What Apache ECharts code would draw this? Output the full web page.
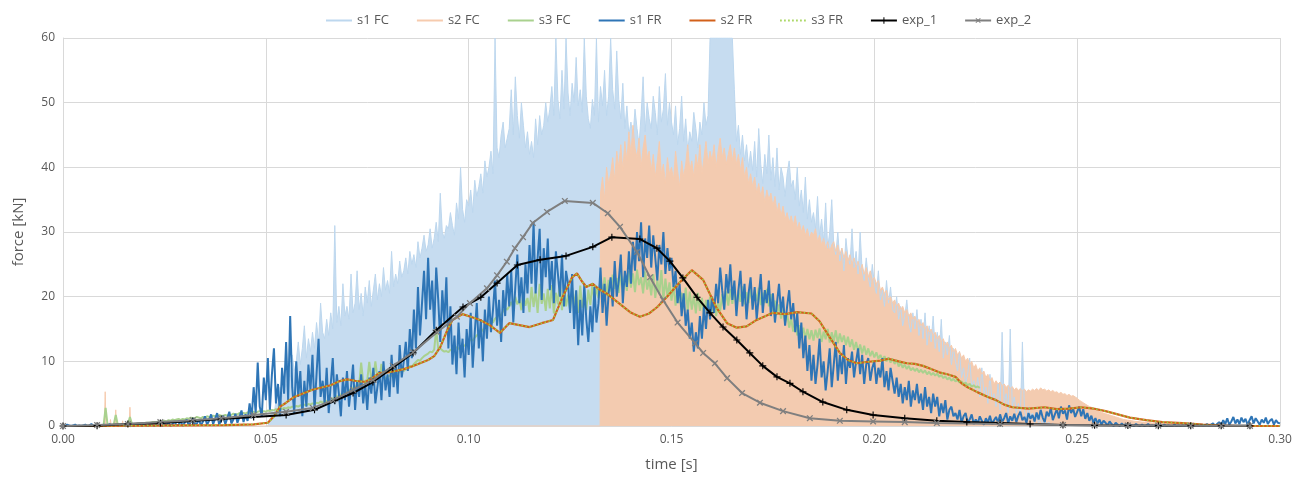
<!DOCTYPE html>
<html><head><meta charset="utf-8">
<script src="https://cdn.jsdelivr.net/npm/echarts@6/dist/echarts.min.js"></script>
<style>html,body{margin:0;padding:0;background:#fff}#c{width:1304px;height:478px}</style>
</head><body><div id="c"></div>
<script>
// ---- data ----
const xTicks = [0, 0.05, 0.10, 0.15, 0.20, 0.25, 0.30];
const yTicks = [0, 10, 20, 30, 40, 50, 60];
const seriesNames = ['s1 FC','s2 FC','s3 FC','s1 FR','s2 FR','s3 FR','exp_1','exp_2'];

// uniformly sampled signals: start time, sample interval, values
const s1FR_t0 = 0, s1FR_dt = 0.0005;
const s1FR = [
0.1,0.0,0.2,0.1,0.0,0.1,0.2,0.0,0.1,0.0,
0.1,0.2,0.0,0.1,0.3,0.0,0.1,0.2,0.0,0.1,
0.2,0.0,0.1,0.3,0.1,0.0,0.2,0.1,0.0,0.3,
0.1,0.0,0.2,0.4,0.1,0.0,0.3,0.1,0.2,0.0,
0.3,0.1,0.0,0.4,0.2,0.0,0.3,0.5,0.1,0.0,
0.4,0.1,0.6,0.0,0.3,0.7,0.1,0.2,0.8,0.0,
0.5,1.0,0.1,0.6,1.2,0.2,0.4,1.0,0.1,0.7,
1.5,0.2,0.8,1.8,0.3,1.1,2.0,0.2,0.9,1.6,
0.3,1.2,2.2,0.4,1.0,1.9,0.5,1.4,2.4,0.6,
1.8,0.8,3.5,1.2,6.0,2.0,9.8,3.0,1.5,7.5,
4.0,10.5,2.5,8.0,12.0,3.5,6.5,1.5,9.0,5.0,
13.0,4.0,17.0,6.0,2.0,10.0,4.5,8.5,1.5,7.0,
3.0,9.5,5.5,11.0,2.5,8.0,13.5,4.5,7.0,3.5,
9.0,2.0,6.5,10.5,3.5,8.0,5.0,1.5,7.5,4.0,
8.5,3.0,6.0,9.5,2.5,7.0,4.5,8.0,3.5,6.5,
2.5,7.5,5.0,9.0,3.5,6.0,8.5,4.0,10.0,5.5,
8.0,4.5,11.0,6.0,9.5,5.0,12.5,7.5,10.0,13.0,
8.5,15.0,10.5,18.0,12.0,21.5,14.0,19.0,24.0,16.5,
26.0,18.0,22.5,15.0,24.5,19.5,13.0,21.0,16.0,23.0,
12.0,18.5,9.5,14.0,8.0,16.0,10.5,13.5,7.5,15.0,
11.0,17.5,9.0,14.5,19.0,12.0,16.5,10.0,18.0,13.5,
20.0,14.5,18.0,22.5,15.5,19.5,13.0,21.0,17.0,23.5,
18.5,24.0,16.0,21.5,26.5,19.0,23.0,17.5,25.0,20.5,
28.0,22.0,31.5,20.5,26.0,30.5,19.5,27.5,23.0,29.0,
21.0,25.5,19.0,27.0,23.5,20.0,26.5,18.5,24.0,22.0,
17.5,23.5,15.0,21.0,12.5,19.5,14.0,22.0,16.5,13.0,
18.5,14.5,21.5,16.0,19.0,24.5,17.5,22.0,15.5,20.5,
23.0,18.5,25.5,20.0,22.5,26.5,19.0,24.0,21.5,27.0,
22.0,28.5,24.0,30.0,25.5,31.5,23.0,29.0,26.0,31.0,
24.5,29.5,26.0,22.5,28.0,25.0,30.0,23.5,27.5,24.0,
26.0,21.5,24.0,19.0,22.0,17.0,20.5,15.5,18.0,13.5,
16.0,11.5,14.5,12.0,17.0,13.5,18.5,15.0,19.5,16.5,
20.0,17.5,22.0,19.0,24.5,21.0,18.0,23.5,20.5,25.0,
19.5,22.5,17.0,21.0,24.0,18.5,22.0,16.5,20.5,23.0,
18.0,21.5,16.5,20.0,23.5,17.5,21.0,19.0,22.5,17.0,
20.5,16.0,19.0,22.0,17.5,20.0,15.5,18.5,21.0,16.5,
19.0,14.5,17.5,12.0,16.0,10.5,14.0,8.5,12.5,7.0,
11.0,6.5,9.5,13.5,7.5,10.0,5.5,8.5,12.0,6.0,
9.5,13.0,7.0,11.0,8.0,12.5,6.5,10.5,9.0,11.5,
7.5,10.0,12.0,8.0,11.0,6.5,9.5,10.5,7.0,9.0,
10.0,6.5,9.0,7.5,10.5,6.0,8.5,5.5,9.0,7.0,
5.0,7.5,4.5,6.5,3.5,6.0,4.0,7.0,3.0,5.5,
4.0,6.5,3.5,5.0,2.5,6.0,3.0,4.5,2.0,5.0,
3.0,4.5,1.5,3.5,2.0,4.0,1.0,2.5,3.0,1.5,
2.0,1.0,2.5,0.5,1.5,2.0,0.5,1.0,1.8,0.3,
1.0,0.4,1.5,0.8,0.2,1.2,0.5,1.6,0.3,0.9,
1.4,0.5,1.8,0.6,1.2,2.0,0.4,1.5,0.8,1.9,
0.6,1.6,2.2,0.9,1.4,0.5,2.0,1.1,1.7,0.7,
2.1,1.0,2.5,1.3,0.6,2.2,1.5,2.8,0.9,1.8,
2.6,1.2,3.0,1.9,2.4,1.0,3.2,2.0,2.7,1.4,
2.2,3.0,1.5,2.6,1.1,2.0,0.8,1.6,0.5,1.2,
0.4,1.0,0.2,0.8,0.5,0.1,0.7,0.3,0.0,0.5,
0.2,0.0,0.4,0.1,0.3,0.0,0.2,0.1,0.0,0.3,
0.1,0.0,0.2,0.0,0.1,0.3,0.0,0.1,0.0,0.2,
0.0,0.1,0.0,0.2,0.0,0.1,0.0,0.0,0.2,0.0,
0.1,0.0,0.1,0.0,0.2,0.0,0.1,0.0,0.0,0.1,
0.0,0.2,0.0,0.1,0.3,0.0,0.2,0.4,0.0,0.3,
0.6,0.1,0.9,0.3,1.2,0.2,0.7,1.4,0.4,1.0,
0.3,1.3,0.6,1.1,0.2,0.9,1.5,0.4,1.2,0.7,
0.2,1.0,0.5,1.3,0.3,0.8,1.1,0.2,0.9,0.5,
0.4];

const s1FC_t0 = 0.05, s1FC_dt = 0.0005;
const s1FC = [
0,0,1.0,2.5,1.5,4.0,3.0,6.0,4.5,7.5,
5.5,9.0,7.0,11.0,8.5,10.0,13.0,9.5,12.0,15.5,
10.5,13.5,11.5,14.5,12.0,16.0,13.0,19.0,14.5,13.5,
16.5,14.0,17.5,15.0,31.0,16.0,18.5,15.5,22.0,17.0,
18.5,16.5,23.5,17.5,19.0,24.0,18.0,20.5,17.0,21.5,
19.0,22.5,18.5,21.0,23.5,19.5,22.0,20.0,24.5,21.0,
22.5,20.5,27.0,21.5,23.5,22.0,25.5,23.0,24.0,26.0,
23.5,27.0,25.0,26.5,24.5,28.5,26.0,27.5,29.5,27.0,
28.0,30.5,27.5,29.0,31.5,28.5,36.0,30.0,29.0,31.0,
30.5,33.0,31.0,29.5,34.5,32.0,40.0,33.5,31.5,35.0,
34.0,36.5,33.0,38.0,35.5,37.0,39.0,36.0,41.0,38.5,
40.0,42.5,39.0,60.0,43.0,41.5,45.0,47.0,43.0,44.5,
46.0,52.0,45.0,54.0,48.0,44.5,50.0,46.5,43.0,45.5,
42.0,44.0,41.5,47.5,43.5,48.0,45.0,46.5,50.0,47.0,
49.0,52.5,48.0,60.0,50.5,47.5,55.0,49.0,60.0,51.5,
48.0,53.0,50.0,57.0,49.5,52.0,48.5,60.0,51.0,47.5,
46.0,50.5,48.0,60.0,47.0,52.5,49.5,55.0,48.0,51.0,
60.0,52.0,49.0,58.0,50.5,47.5,53.0,46.0,49.5,45.0,
47.0,44.5,49.0,46.0,43.5,48.0,54.0,45.5,50.0,47.5,
46.0,51.0,48.5,45.0,52.5,47.0,49.0,54.5,46.5,50.0,
47.0,45.0,49.5,43.5,46.0,51.0,44.0,47.5,42.5,45.5,
44.0,48.5,46.0,43.0,47.0,45.0,50.0,46.5,48.0,60.0,
60.0,60.0,60.0,60.0,60.0,60.0,60.0,60.0,60.0,60.0,
60.0,52.0,44.0,46.5,42.0,45.0,41.0,43.5,40.0,42.5,
39.5,44.0,38.5,46.0,40.5,37.5,42.0,39.0,45.0,38.0,
41.5,37.0,43.0,36.5,40.0,38.5,35.5,39.0,41.0,37.0,
38.0,35.0,40.0,34.0,36.5,33.0,38.5,32.0,35.0,31.5,
33.0,30.5,35.5,29.5,32.0,28.5,34.5,27.5,30.0,35.0,
28.0,26.5,30.0,25.5,27.5,24.0,29.0,26.0,25.0,30.5,
24.5,27.0,23.5,30.0,24.0,22.5,26.0,23.0,21.5,25.0,
22.0,20.5,24.0,19.5,21.0,18.5,22.5,19.0,21.5,18.0,
17.5,20.0,16.5,18.5,15.5,17.0,19.5,16.0,14.5,17.5,
15.0,18.0,14.0,16.5,13.5,17.5,12.5,15.5,13.0,17.0,
12.0,14.5,11.5,16.5,10.5,13.0,11.0,14.0,9.5,12.0,
10.0,8.5,11.5,7.5,9.0,6.5,8.0,10.5,6.0,7.0,
5.5,7.5,4.5,9.0,5.0,6.0,3.5,8.0,4.0,5.0,
3.0,6.5,2.5,14.5,3.5,5.0,2.0,15.0,3.0,4.5,
2.0,3.5,1.5,13.0,2.5,1.0,3.0,1.5,2.0,0.5,
1.5,0.5,1.0,0.3,0.8,0.2,0.6,0.1,0.4,0.0];

const s2FC_spikeT = [0.0104, 0.0117, 0.0130, 0.0147, 0.0165];
const s2FC_spikeV = [5.3, 1.0, 2.5, 0.8, 2.9];
const s2FC_t0 = 0.1325, s2FC_dt = 0.0005;
const s2FC = [
36.0,38.5,35.0,40.0,37.5,
39.0,41.5,38.0,42.5,40.0,43.5,39.5,44.0,41.0,45.5,
42.0,46.5,43.0,41.5,44.5,40.0,43.0,45.0,41.5,42.5,
39.5,42.0,38.5,41.0,44.0,39.0,40.5,37.5,41.5,39.0,
40.0,38.0,42.5,39.5,37.0,41.0,38.5,40.5,43.5,39.5,
41.0,38.5,42.0,40.0,43.5,39.0,41.5,44.0,40.5,42.5,
41.0,43.5,40.0,42.5,44.5,41.5,43.0,40.5,42.0,43.5,
41.0,43.0,40.5,42.0,39.5,41.5,38.5,40.0,37.5,39.0,
37.0,38.5,36.0,37.5,35.5,37.0,34.5,36.5,35.0,36.0,
34.0,35.5,33.0,34.5,32.5,34.0,32.0,33.0,31.5,32.5,
31.0,32.5,30.5,31.5,30.0,31.0,29.5,30.5,29.0,30.0,
29.5,30.5,28.5,29.5,28.0,29.0,27.5,28.5,27.0,28.0,
28.5,27.0,28.0,26.5,27.5,26.0,27.0,25.5,26.5,25.0,
26.0,24.5,25.5,24.0,25.0,23.5,24.5,23.0,24.0,22.5,
23.0,22.0,22.5,21.0,21.5,20.5,21.0,19.5,20.0,19.0,
19.5,18.5,19.0,18.0,18.5,17.5,18.0,17.0,17.5,16.5,
17.0,16.0,16.5,15.5,16.0,15.0,15.5,14.5,15.0,14.0,
14.5,13.5,14.0,13.0,13.5,12.5,13.0,12.0,12.5,11.5,
12.0,11.0,11.5,10.5,11.0,10.0,10.5,9.5,10.0,9.0,
9.5,8.5,9.0,8.0,8.5,7.5,8.0,7.0,7.5,6.5,
7.0,6.5,6.8,6.2,6.5,6.0,6.3,5.8,6.1,5.6,
5.9,5.5,5.8,5.4,5.7,5.3,5.6,5.4,5.7,5.5,
5.8,5.5,5.9,5.6,5.7,5.4,5.6,5.3,5.5,5.2,
5.3,5.0,5.2,4.9,5.0,4.7,4.9,4.6,4.7,4.5,
4.3,4.0,3.8,3.6,3.4,3.2,3.0,2.9,2.7,2.6,
2.4,2.3,2.1,2.0,1.9,1.8,1.7,1.6,1.5,1.4,
1.3,1.2,1.1,1.0,0.95,0.9,0.85,0.8,0.75,0.7,
0.7,0.65,0.6,0.6,0.55,0.5,0.5,0.45,0.45,0.4,
0.4,0.35,0.35,0.3,0.3,0.3,0.25,0.25,0.2,0.2,
0.2,0.2,0.15,0.15,0.1,0.1,0.1,0.1,0.05,0.05,
0.05,0,0];

const s3FC_t0 = 0, s3FC_dt = 0.0005;
const s3FC = [
0,0,0,0,0,0,0,0,0,0,
0,0,0,0,0,0,0.1,0.1,0.1,0.1,
0.1,2.8,0.1,0.2,0.2,0.2,1.7,0.2,0.2,0.2,
0.2,0.3,0.3,1.4,0.3,0.3,0.3,0.4,0.4,0.4,
0.4,0.5,0.5,0.5,0.6,0.6,0.6,0.7,0.7,0.7,
0.8,0.7,0.9,0.8,1.0,0.9,1.0,1.1,0.9,1.1,
1.0,1.2,1.1,1.3,1.2,1.2,1.4,1.3,1.2,1.4,
1.3,1.5,1.4,1.4,1.6,1.5,1.5,1.7,1.6,1.6,
1.7,1.6,1.8,1.7,1.9,1.8,1.8,2.0,1.9,2.0,
1.9,2.1,2.0,2.1,2.2,2.0,2.2,2.3,2.1,2.3,
2.2,2.4,2.3,2.5,2.4,2.6,2.5,2.7,2.6,2.8,
2.7,2.9,2.8,3.0,2.9,3.1,3.0,3.2,3.1,3.3,
3.2,3.4,3.3,3.5,3.4,3.6,3.5,3.8,3.6,3.9,
3.8,4.1,4.0,4.3,4.2,4.6,4.5,4.9,4.8,5.2,
5.2,5.6,5.5,6.0,5.9,6.4,6.3,9.8,6.8,7.0,
7.1,9.9,7.2,7.3,10.0,7.4,7.3,9.6,7.5,7.4,
7.6,7.8,7.7,8.0,8.2,8.1,8.4,8.6,8.5,8.8,
9.0,9.3,9.2,9.6,9.9,10.2,10.1,10.5,10.8,11.0,
11.2,11.5,11.4,11.8,15.0,11.9,12.0,11.7,11.5,11.6,
11.4,11.8,11.6,12.0,12.2,11.9,12.3,12.5,12.4,12.8,
13.0,13.4,13.2,13.7,14.0,14.3,14.5,14.9,15.2,15.5,
15.8,16.2,16.0,16.6,16.9,17.3,17.1,17.8,18.2,18.0,
18.5,19.2,18.3,20.0,18.8,19.6,17.9,20.4,18.6,19.8,
17.6,21.5,18.4,20.8,17.5,22.0,18.9,20.5,17.8,21.2,
18.2,21.8,17.4,20.6,18.8,22.2,17.9,21.0,18.5,20.3,
17.8,21.4,18.6,20.9,17.5,21.7,18.3,20.2,17.9,21.1,
18.7,22.0,19.2,21.5,19.8,22.8,20.4,23.0,20.1,22.6,
20.8,23.4,21.2,22.9,20.6,23.8,21.5,23.2,20.9,24.0,
21.4,23.6,20.7,24.2,21.8,23.0,20.5,23.9,21.1,22.7,
20.2,23.5,19.8,22.6,20.4,24.1,19.5,22.8,20.0,22.2,
19.4,21.8,18.6,21.2,19.0,20.6,18.2,21.4,17.8,20.8,
18.0,20.2,17.4,20.6,17.8,19.8,17.2,19.5,17.6,20.0,
17.5,19.6,17.0,19.2,17.8,20.4,18.2,20.8,18.6,21.2,
18.9,21.5,18.4,21.0,19.2,21.6,18.8,20.7,19.0,21.3,
18.6,21.0,19.3,21.4,18.7,20.6,19.0,21.2,18.5,20.4,
17.8,19.4,17.2,18.8,16.6,18.0,16.0,17.4,15.2,16.6,
14.6,16.0,14.0,15.6,13.8,15.2,13.5,15.0,13.4,14.8,
13.2,14.9,13.6,15.1,13.0,14.6,13.4,15.0,12.9,14.5,
13.1,14.8,12.8,14.3,13.0,14.0,12.5,13.8,12.2,13.4,
11.8,13.0,11.5,12.6,11.2,12.4,11.0,12.0,10.8,11.6,
10.6,11.4,10.4,11.0,10.2,10.8,10.0,10.6,9.8,10.4,
9.6,10.2,9.2,9.8,9.0,9.5,8.8,9.3,8.6,9.0,
8.5,8.9,8.3,8.7,8.2,8.6,8.0,8.4,7.9,8.2,
7.8,8.1,7.6,7.9,7.4,7.7,7.2,7.5,7.0,7.3,
6.9,7.1,6.7,6.9,6.5,6.7,6.3,6.5,6.1,6.3,
6.0,6.1,5.9];

// irregularly sampled series: times and values
const frT = [
0,0.01,0.02,0.03,0.04,0.047,0.0505,0.052,0.0535,0.055,
0.057,0.059,0.0615,0.064,0.066,0.068,0.070,0.072,0.0745,0.076,
0.078,0.080,0.082,0.084,0.086,0.088,0.090,0.0915,0.093,0.0947,
0.096,0.0985,0.1005,0.1028,0.1052,0.1077,0.110,0.1125,0.115,0.118,
0.1208,0.1232,0.1255,0.1267,0.128,0.129,0.1306,0.132,0.134,0.137,
0.1398,0.1422,0.1445,0.1465,0.1489,0.152,0.155,0.1578,0.161,0.1637,
0.1661,0.1685,0.171,0.175,0.178,0.181,0.1845,0.1865,0.1883,0.1915,
0.1935,0.1957,0.198,0.2015,0.2035,0.206,0.208,0.210,0.212,0.214,
0.216,0.218,0.220,0.2215,0.223,0.2255,0.228,0.230,0.232,0.234,
0.238,0.242,0.245,0.248,0.251,0.254,0.257,0.260,0.263,0.267,
0.271,0.276,0.281,0.286,0.29,0.30];
const s2FR = [
0,0.02,0.05,0.1,0.15,0.25,0.5,1.5,3.0,3.6,
4.5,5.0,5.6,6.0,6.3,6.9,7.2,7.0,6.8,7.3,
8.2,8.3,8.5,8.8,9.2,9.7,10.2,10.8,12.2,14.8,
16.4,17.3,16.9,16.4,15.6,14.4,15.9,15.6,15.3,15.9,
16.4,20.0,23.0,23.6,22.3,21.5,22.0,21.2,20.5,19.0,
17.6,16.9,17.4,18.4,20.0,22.2,24.1,22.6,18.4,15.9,
15.2,15.4,16.4,17.5,17.3,17.6,17.4,16.2,14.4,11.3,
10.2,9.7,9.9,10.1,10.4,10.0,9.7,9.6,9.3,8.8,
8.3,8.0,7.6,6.6,6.0,5.2,4.5,4.0,3.3,2.9,
2.7,2.9,2.6,2.7,2.9,2.7,2.3,1.8,1.3,0.9,
0.6,0.45,0.2,0.05,0,0];
const s3FR = [
0,0.02,0.05,0.1,0.15,0.25,0.5,1.4,3.0,3.6,
4.5,5.0,5.6,6.0,6.3,6.9,7.2,7.0,6.8,7.3,
8.2,8.3,8.5,8.8,9.2,9.7,10.2,10.8,12.2,14.8,
16.4,17.3,16.9,16.4,15.6,14.4,15.9,15.6,15.3,15.9,
16.4,20.0,23.0,23.6,22.3,21.5,22.0,21.2,20.5,19.0,
17.6,16.9,17.4,18.4,20.0,22.2,24.1,22.6,18.4,15.9,
15.2,15.4,16.4,17.5,17.3,17.6,17.4,16.2,14.4,11.3,
10.2,9.7,9.9,10.1,10.4,10.0,9.7,9.6,9.3,8.8,
8.3,8.0,7.6,6.6,6.0,5.2,4.5,4.0,3.3,2.9,
2.7,2.9,2.6,2.7,2.9,2.7,2.3,1.8,1.3,0.9,
0.6,0.45,0.2,0.05,0,0];

const exp1T = [0,0.0084,0.016,0.024,0.032,0.039,0.047,0.055,
0.062,0.067,0.0715,0.0764,0.0813,0.0863,0.092,0.0986,
0.103,0.107,0.112,0.1176,0.124,0.1306,0.1353,0.1422,
0.1464,0.1496,0.1528,0.1563,0.1595,0.1627,0.1661,0.1693,
0.1725,0.176,0.1792,0.1824,0.1873,0.1932,0.1997,0.2075,
0.2154,0.2228,0.231,0.2384,0.2465,0.2543,0.2625,0.270,
0.278,0.2855,0.2926];
const exp1V = [0,0.05,0.3,0.46,0.77,1.08,1.4,1.7,
2.5,3.9,5.1,6.8,9.0,11.3,14.8,18.4,
19.9,22.1,24.9,25.7,26.3,27.7,29.2,28.9,
27.5,25.5,22.9,19.9,17.5,15.3,13.3,11.3,
9.3,7.6,6.6,5.3,3.7,2.5,1.7,1.2,
0.8,0.6,0.46,0.3,0.15,0.1,0.07,0.05,
0.04,0.03,0.02];
const exp2T = [0,0.0084,0.016,0.024,0.032,0.039,0.047,0.055,
0.0616,0.0666,0.0715,0.0764,0.0813,0.0863,0.0922,0.0971,
0.1003,0.1045,0.107,0.1094,0.1114,0.1134,0.1158,0.1193,
0.1237,0.1306,0.1343,0.1373,0.1415,0.1447,0.1479,0.1515,
0.1558,0.1578,0.1607,0.1637,0.1674,0.1718,0.1775,0.1841,
0.1915,0.1997,0.2075,0.2154,0.231,0.2465,0.2543,0.2625,
0.270,0.278,0.2855,0.2926];
const exp2V = [0,0.15,0.3,0.6,0.9,1.2,1.7,2.2,
2.8,4.0,5.6,7.1,9.3,11.4,14.5,16.9,
19.0,21.3,23.3,25.4,27.5,29.2,31.4,33.1,
34.8,34.5,32.9,30.8,26.9,23.0,19.5,16.0,
12.8,11.3,9.7,7.4,5.1,3.6,2.3,1.2,
0.8,0.7,0.6,0.46,0.3,0.15,0.1,0.08,
0.06,0.04,0.03,0.02];

// ---- build ----
function uniform(t0, dt, vals){ return vals.map((v,i)=>[+(t0+i*dt).toFixed(5), v]); }
function pairs(ts, vs){ const n=Math.min(ts.length,vs.length); const o=[]; for(let i=0;i<n;i++) o.push([ts[i],vs[i]]); return o; }
function spikes(ts, vs){ const o=[[0,0]]; ts.forEach((t,i)=>{o.push([t-0.0002,0],[t,vs[i]],[t+0.0002,0]);}); return o; }

const s2FCdata = spikes(s2FC_spikeT, s2FC_spikeV).concat([[s2FC_t0-0.0001,0]], uniform(s2FC_t0, s2FC_dt, s2FC));

const plusPath = 'path://M4.2,0H5.8V4.2H10V5.8H5.8V10H4.2V5.8H0V4.2H4.2Z';

const FONT = 'Open Sans';
const chart = echarts.init(document.getElementById('c'), null, {renderer:'canvas'});
const base = {type:'line', showSymbol:false, symbol:'none', silent:true, sampling:null, animation:false};
const noSym = {opacity:0};
chart.setOption({
  animation:false,
  textStyle:{fontFamily:FONT},
  legend:{
    top:9, left:320, itemWidth:26, itemHeight:8, itemGap:27,
    textStyle:{color:'#595959', fontSize:13, fontFamily:FONT},
    data:[
      {name:seriesNames[0], itemStyle:noSym},
      {name:seriesNames[1], itemStyle:noSym},
      {name:seriesNames[2], itemStyle:noSym},
      {name:seriesNames[3], itemStyle:noSym},
      {name:seriesNames[4], itemStyle:noSym},
      {name:seriesNames[5], itemStyle:noSym},
      {name:seriesNames[6]},
      {name:seriesNames[7]}
    ]
  },
  grid:{left:63, right:24, top:38, bottom:52},
  xAxis:{
    type:'value', min:xTicks[0], max:xTicks[xTicks.length-1], interval:xTicks[1]-xTicks[0],
    name:'time [s]', nameLocation:'middle', nameGap:31,
    nameTextStyle:{fontSize:15, color:'#595959', fontFamily:FONT},
    axisLine:{show:true, lineStyle:{color:'#d9d9d9', width:1}},
    axisTick:{show:false},
    axisLabel:{color:'#595959', fontSize:12, margin:8, formatter:v=>v.toFixed(2)},
    splitLine:{show:true, lineStyle:{color:'#d9d9d9', width:1}}
  },
  yAxis:{
    type:'value', min:yTicks[0], max:yTicks[yTicks.length-1], interval:yTicks[1]-yTicks[0],
    name:'force [kN]', nameLocation:'middle', nameGap:37, nameRotate:90,
    nameTextStyle:{fontSize:15, color:'#595959', fontFamily:FONT},
    axisLine:{show:true, lineStyle:{color:'#d9d9d9', width:1}},
    axisTick:{show:false},
    axisLabel:{color:'#595959', fontSize:12, margin:8},
    splitLine:{show:true, lineStyle:{color:'#d9d9d9', width:1}}
  },
  series:[
    Object.assign({}, base, {name:seriesNames[0], data:uniform(s1FC_t0, s1FC_dt, s1FC),
      itemStyle:{color:'#bdd7ee'}, lineStyle:{color:'#bdd7ee', width:1},
      areaStyle:{color:'#c6dcf0', opacity:1}}),
    Object.assign({}, base, {name:seriesNames[1], data:s2FCdata,
      itemStyle:{color:'#f8cbad'}, lineStyle:{color:'#f6cbae', width:1},
      areaStyle:{color:'#f3cbb0', opacity:1}}),
    Object.assign({}, base, {name:seriesNames[2], data:uniform(s3FC_t0, s3FC_dt, s3FC),
      itemStyle:{color:'#a9d18e'}, lineStyle:{color:'#a9d18e', width:2}}),
    Object.assign({}, base, {name:seriesNames[3], data:uniform(s1FR_t0, s1FR_dt, s1FR),
      itemStyle:{color:'#2e75b6'}, lineStyle:{color:'#2e75b6', width:2}}),
    Object.assign({}, base, {name:seriesNames[4], data:pairs(frT, s2FR),
      itemStyle:{color:'#d2601a'}, lineStyle:{color:'#d2601a', width:2.2}}),
    Object.assign({}, base, {name:seriesNames[5], data:pairs(frT, s3FR),
      itemStyle:{color:'#92d050'}, lineStyle:{color:'#9bd048', width:1.6, type:[1.5,2.5]}}),
    Object.assign({}, base, {name:seriesNames[6], data:pairs(exp1T, exp1V),
      showSymbol:true, symbol:plusPath, symbolSize:7,
      itemStyle:{color:'#000000'}, lineStyle:{color:'#000000', width:2}}),
    Object.assign({}, base, {name:seriesNames[7], data:pairs(exp2T, exp2V),
      showSymbol:true, symbol:plusPath, symbolSize:8, symbolRotate:45,
      itemStyle:{color:'#7f7f7f'}, lineStyle:{color:'#7f7f7f', width:2}})
  ]
});
</script></body></html>
